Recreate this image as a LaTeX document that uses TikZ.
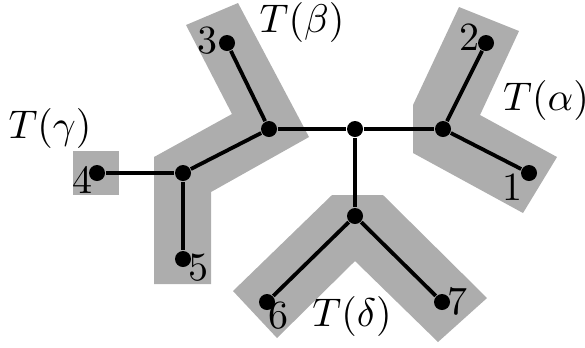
\documentclass[tikz,border=0pt]{standalone}
\begin{document}
\begin{tikzpicture}[x=0.25pt,y=-0.25pt,
  region/.style={fill=greyfill,draw=none},
  edge/.style={line width=0.95pt,black},
  dot/.style={circle,fill=black,inner sep=0pt,minimum size=4pt},
  num/.style={inner sep=0pt,font=\fontsize{10}{12}\selectfont},
  lab/.style={inner sep=0pt,font=\fontsize{10}{12}\selectfont}]
\definecolor{greyfill}{RGB}{173,173,173}
\useasboundingbox (0,0) rectangle (585,347);
% grey regions
\fill[region] (186,25) -- (238,3) -- (309,137) -- (211,192) -- (211,284) -- (154,284) -- (154,157) -- (232,114) -- cycle;
\fill[region] (459,7) -- (519,31) -- (480,115) -- (557,157) -- (523,213) -- (413,153) -- (413,105) -- cycle;
\fill[region] (332,195) -- (383,195) -- (487,298) -- (438,342) -- (355,261) -- (277,338) -- (233,291) -- cycle;
\fill[region] (73,151) rectangle (119,195);
% vertices
\node[dot] (c) at (355,129) {};
\node[dot] (a) at (443,129) {};
\node[dot] (b) at (269,129) {};
\node[dot] (g) at (183,173) {};
\node[dot] (d) at (355,216) {};
\node[dot] (l1) at (529,173) {};
\node[dot] (l2) at (486,43) {};
\node[dot] (l3) at (227,43) {};
\node[dot] (l4) at (97,173) {};
\node[dot] (l5) at (183,259) {};
\node[dot] (l6) at (267,302) {};
\node[dot] (l7) at (442,302) {};
% edges
\draw[edge] (b) -- (c) (c) -- (a) (c) -- (d);
\draw[edge] (a) -- (l1) (a) -- (l2);
\draw[edge] (b) -- (l3) (b) -- (g);
\draw[edge] (g) -- (l4) (g) -- (l5);
\draw[edge] (d) -- (l6) (d) -- (l7);
% numbers
\node[num] (n1) at (512,187) {1};
\node[num] (n2) at (469,37) {2};
\node[num] (n3) at (207,41) {3};
\node[num] (n4) at (82,180) {4};
\node[num] (n5) at (198,268) {5};
\node[num] (n6) at (278,316) {6};
\node[num] (n7) at (457,301) {7};
% labels
\node[lab] (tb) at (302,22) {$T(\beta)$};
\node[lab] (ta) at (546,100) {$T(\alpha)$};
\node[lab] (tg) at (50,128) {$T(\gamma)$};
\node[lab] (td) at (352,316) {$T(\delta)$};
\end{tikzpicture}
\end{document}
